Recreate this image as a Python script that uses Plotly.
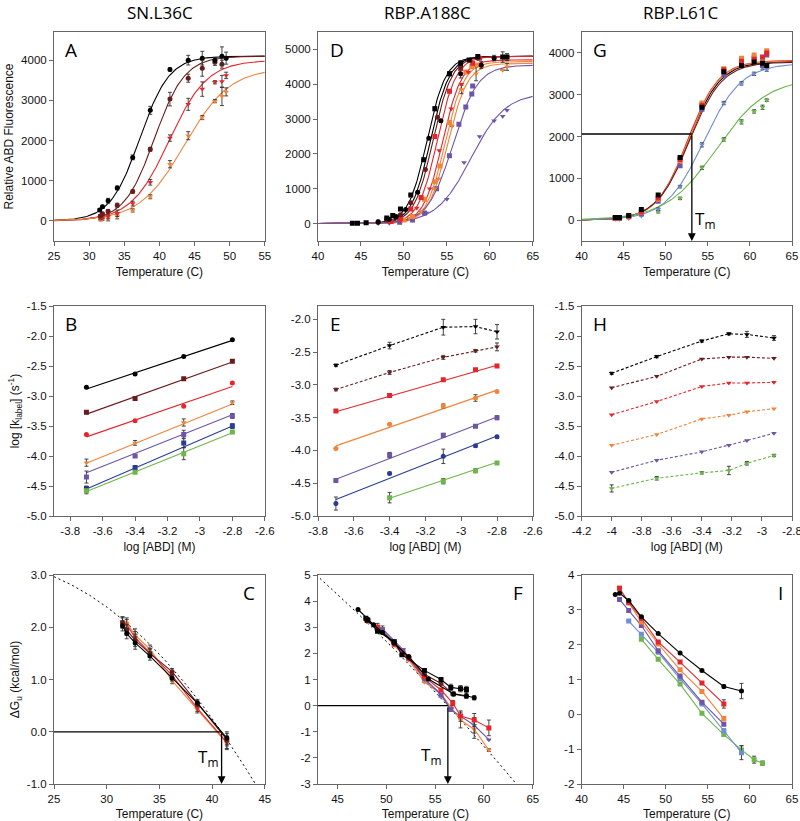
import numpy as np
import plotly.graph_objects as go

# ---------------- colours ----------------
C_BLACK = '#000000'
C_MAROON = '#6a1c1c'
C_RED = '#e4262c'
C_ORANGE = '#f0843a'
C_PURPLE = '#6e55a5'
C_BLUE = '#2b3c94'
C_GREEN = '#6db64a'
C_LBLUE = '#6f8ed4'
ERRC = '#333333'

# ---------------- Panel A (SN.L36C) ----------------
TA_black = [31.5, 31.9, 32.7, 34.0, 36.2, 38.7, 41.5, 44.1, 46.1, 47.9, 48.9, 49.5]
FA_black = [270, 350, 500, 820, 1580, 2750, 3770, 4000, 4050, 4000, 4100, 4050]
EA_black = [40, 40, 60, 50, 60, 100, 40, 120, 170, 70, 230, 150]
TA_maroon = [31.6, 31.9, 32.7, 34.0, 36.2, 38.7, 41.5, 44.1, 46.1, 47.9, 48.9]
FA_maroon = [120, 180, 240, 390, 730, 1780, 3030, 3550, 3800, 3950, 3900]
EA_maroon = [40, 30, 40, 50, 40, 50, 170, 100, 200, 80, 100]
TA_red = [31.6, 31.9, 32.7, 34.0, 36.2, 38.7, 41.5, 44.1, 46.1, 47.9, 48.9, 49.5]
FA_red = [70, 80, 110, 190, 430, 960, 2060, 2900, 3280, 3450, 3470, 3620]
EA_red = [40, 30, 60, 80, 60, 70, 80, 150, 180, 40, 150, 80]
TA_orange = [31.6, 31.9, 32.7, 34.0, 36.2, 38.7, 41.5, 44.1, 46.1, 47.9, 48.9, 49.5]
FA_orange = [30, 40, 60, 110, 260, 600, 1410, 2120, 2570, 2980, 3100, 3210]
EA_orange = [30, 30, 60, 60, 40, 50, 90, 100, 50, 40, 230, 100]
# sigmoid fit parameters (Tm, width, plateau)
FitA_Tm = [37.2, 39.3, 41.4, 43.6]
FitA_w = [2.1, 2.15, 2.7, 3.2]
FitA_top = [4100, 4100, 4000, 3800]

# ---------------- Panel D (RBP.A188C) ----------------
TD1 = [44.0, 44.6, 45.6, 48.0, 48.7, 49.6, 50.8, 52.3, 53.6, 55.3, 56.6, 57.6, 58.6, 61.5, 62.0]
FD1 = [10, 10, 20, 160, 230, 420, 820, 1830, 3300, 4300, 4600, 4700, 4800, 4780, 4780]
ED1 = [0, 0, 0, 0, 0, 0, 0, 0, 60, 60, 80, 0, 0, 150, 100]
TD2 = [47.0, 48.3, 49.1, 50.2, 51.6, 52.9, 54.3, 56.6, 59.0, 60.5]
FD2 = [40, 120, 200, 400, 900, 2450, 2950, 4300, 4550, 4750]
ED2 = [0, 0, 0, 0, 0, 0, 0, 120, 100, 80]
TD3 = [47.0, 48.0, 49.6, 50.8, 52.5, 53.9, 56.6, 58.6]
FD3 = [60, 100, 250, 600, 1550, 3050, 4500, 4750]
TD4 = [48.5, 49.6, 50.8, 52.0, 53.6, 55.3, 56.6, 58.0, 58.8]
FD4 = [60, 150, 420, 750, 2500, 3800, 4450, 4600, 4750]
TD5 = [49.6, 51.5, 53.0, 54.1, 55.5, 56.7, 57.5, 59.0]
FD5 = [80, 450, 1000, 2100, 3300, 4000, 4350, 4500]
TD6 = [50.0, 51.0, 52.4, 53.6, 54.2, 55.3, 57.2, 57.9, 58.6]
FD6 = [100, 200, 700, 1200, 1650, 2900, 4350, 4500, 4550]
TD7 = [50.6, 52.0, 53.6, 54.0, 55.6, 56.7, 58.4, 61.5, 62.0]
FD7 = [150, 350, 1000, 1290, 2800, 3850, 4300, 4400, 4500]
ED7 = [0, 0, 0, 0, 0, 120, 200, 0, 100]
TD8 = [49.5, 51.0, 52.4, 53.8, 55.3, 56.4, 57.2, 57.9, 58.0]
FD8 = [40, 100, 300, 1000, 1950, 2850, 3350, 3720, 3950]
TD9 = [47.0, 48.3, 49.6, 51.0, 52.6, 55.0, 57.0, 58.8, 60.5, 61.5, 62.0]
FD9 = [0, 10, 40, 100, 300, 700, 1750, 2500, 2950, 3080, 3250]
FitD_Tm = [52.7, 53.1, 53.4, 53.9, 54.5, 54.8, 55.1, 55.7, 57.8]
FitD_w = [1.1, 1.1, 1.1, 1.1, 1.1, 1.1, 1.15, 1.45, 2.0]
FitD_top = [4800, 4800, 4800, 4800, 4700, 4650, 4600, 4550, 3750]

# ---------------- Panel G (RBP.L61C) ----------------
TG = [44.0, 44.5, 45.6, 47.1, 49.1, 51.7, 54.3, 56.9, 59.0, 60.5, 61.5, 62.0]
FG_black = [60, 60, 110, 250, 600, 1500, 2700, 3550, 3700, 3780, 3750, 3700]
FG_red = [50, 50, 90, 200, 530, 1450, 2750, 3600, 3800, 3850, 3900, 4000]
FG_orange = [50, 50, 90, 190, 500, 1420, 2800, 3620, 3870, 3950, 3850, 4050]
FG_purple = [40, 40, 80, 150, 450, 1300, 2650, 3480, 3800, 3880, 3700, 3950]
FG_lblue = [30, 30, 60, 100, 260, 800, 1800, 2800, 3270, 3500, 3650, 3600]
FG_green = [20, 20, 40, 120, 200, 520, 1250, 1930, 2350, 2600, 2700, 2870]
FitG_Tm = [52.7, 52.6, 52.65, 52.8, 54.5, 56.0]
FitG_w = [1.9, 1.85, 1.85, 1.95, 2.24, 3.0]
FitG_top = [3800, 3820, 3810, 3780, 3750, 3400]
TmG = 53.1
TmG_level = 2060

# ---------------- Panel B ----------------
XB = [-3.7, -3.4, -3.1, -2.8]
YB_black = [-2.85, -2.63, -2.34, -2.06]
YB_maroon = [-3.27, -3.04, -2.71, -2.42]
YB_red = [-3.64, -3.41, -3.17, -2.78]
YB_orange = [-4.11, -3.78, -3.44, -3.11]
YB_purple = [-4.35, -4.00, -3.64, -3.33]
YB_blue = [-4.54, -4.19, -3.78, -3.50]
YB_green = [-4.58, -4.27, -3.96, -3.60]
EB_orange = [0.06, 0.04, 0.06, 0.03]
EB_purple = [0.10, 0.02, 0.07, 0.04]
EB_blue = [0.04, 0.03, 0.08, 0.04]
EB_green = [0.05, 0.02, 0.10, 0.02]
FitB_start = [-2.88, -3.30, -3.68, -4.12, -4.28, -4.55, -4.59]
FitB_end = [-2.07, -2.43, -2.84, -3.13, -3.31, -3.50, -3.61]

# ---------------- Panel E ----------------
XE = [-3.7, -3.4, -3.1, -2.92, -2.8]
YE_black = [-2.70, -2.40, -2.12, -2.11, -2.19]
YE_maroon = [-3.07, -2.81, -2.58, -2.48, -2.42]
YE_red = [-3.40, -3.16, -2.92, -2.77, -2.71]
YE_orange = [-3.97, -3.60, -3.32, -3.20, -3.10]
YE_purple = [-4.46, -4.07, -3.77, -3.63, -3.50]
YE_blue = [-4.81, -4.35, -4.09, -3.93, -3.79]
XE_green = [-3.4, -3.1, -2.92, -2.8]
YE_green = [-4.72, -4.47, -4.31, -4.19]
EE_black = [0.02, 0.05, 0.12, 0.11, 0.11]
EE_maroon = [0.02, 0.03, 0.03, 0.02, 0.06]
EE_blue = [0.10, 0.02, 0.11, 0.02, 0.02]
EE_green = [0.08, 0.04, 0.03, 0.02]
FitE_x0 = [-3.7, -3.7, -3.7, -3.7, -3.4]
FitE_start = [-3.41, -3.93, -4.44, -4.75, -4.73]
FitE_end = [-2.70, -3.08, -3.49, -3.78, -4.18]

# ---------------- Panel H ----------------
XH = [-4.0, -3.7, -3.4, -3.22, -3.1, -2.92]
YH_black = [-2.62, -2.34, -2.08, -1.96, -1.97, -2.03]
YH_maroon = [-2.86, -2.67, -2.38, -2.35, -2.35, -2.37]
YH_red = [-3.31, -3.09, -2.84, -2.78, -2.78, -2.77]
YH_orange = [-3.82, -3.64, -3.38, -3.32, -3.26, -3.21]
YH_purple = [-4.27, -4.07, -3.93, -3.82, -3.74, -3.62]
YH_green = [-4.54, -4.37, -4.28, -4.24, -4.12, -3.99]
EH_black = [0.02, 0.02, 0.02, 0.02, 0.05, 0.04]
EH_green = [0.06, 0.03, 0.02, 0.07, 0.03, 0.02]

# ---------------- Panel C ----------------
TC = [31.5, 31.9, 32.7, 34.1, 36.2, 38.6, 41.4]
GC_black = [2.03, 1.88, 1.70, 1.45, 1.03, 0.55, -0.12]
GC_maroon = [2.08, 1.95, 1.75, 1.50, 1.15, 0.55, -0.15]
GC_red = [2.10, 2.05, 1.80, 1.52, 1.08, 0.45, -0.20]
GC_orange = [2.10, 2.08, 1.85, 1.58, 0.98, 0.42, -0.22]
EC = [0.10, 0.10, 0.12, 0.08, 0.06, 0.06, 0.12]
TmC = 40.9
DashC = [0.0, -0.29, -0.0065]   # quadratic stability curve about Tm

# ---------------- Panel F ----------------
TF_k1 = [47.1, 48.1, 48.7, 49.6, 50.8, 52.3, 54.3, 56.9, 58.2, 59.0]
GF_k1 = [3.68, 3.30, 3.10, 2.80, 2.40, 1.88, 1.02, 0.45, 0.38, 0.30]
EF_k1 = [0, 0, 0, 0, 0, 0, 0, 0.08, 0.1, 0.08]
TF_k2 = [47.9, 48.1, 49.1, 50.8, 51.6, 53.9, 55.6, 56.6, 57.6, 58.2]
GF_k2 = [3.35, 3.28, 2.85, 2.45, 1.95, 1.35, 1.00, 0.70, 0.65, 0.62]
EF_k2 = [0, 0, 0, 0, 0, 0, 0.05, 0.12, 0.12, 0.12]
TF_m = [48.0, 49.6, 50.8, 52.3, 53.9, 55.6, 56.8, 58.2]
GF_m = [3.25, 2.80, 2.40, 1.85, 1.20, 0.85, 0.45, 0.35]
TF_r = [49.1, 50.8, 52.3, 53.9, 55.6, 56.8, 57.6, 59.0, 60.5]
GF_r = [3.00, 2.35, 1.80, 1.10, 0.60, 0.10, -0.40, -0.55, -0.85]
EF_r = [0, 0, 0, 0, 0, 0.1, 0.2, 0.25, 0.3]
TF_p = [49.6, 51.7, 53.9, 55.6, 56.6, 57.6, 59.0, 60.5]
GF_p = [2.95, 2.15, 1.00, 0.45, -0.15, -0.40, -0.75, -1.30]
EF_p = [0.1, 0, 0, 0, 0, 0, 0.3, 0]
TF_o = [48.0, 49.1, 50.8, 52.3, 53.9, 55.6, 56.7, 57.6, 59.0, 60.5]
GF_o = [3.20, 3.05, 2.30, 1.75, 0.90, 0.45, -0.10, -0.55, -0.90, -1.70]
EF_o = [0, 0.1, 0, 0, 0, 0, 0.1, 0.3, 0.35, 0.05]
TF_b = [49.6, 50.8, 51.7, 53.9, 55.6, 56.6]
GF_b = [2.90, 2.45, 2.10, 1.05, 0.40, -0.15]
TmF = 56.3
DashF = [0.0, -0.408, -0.00275]

# ---------------- Panel I ----------------
TI_black = [44.0, 44.5, 45.6, 47.1, 49.1, 51.7, 54.3, 56.9, 59.0]
GI_black = [3.44, 3.48, 3.27, 2.80, 2.32, 1.76, 1.26, 0.80, 0.67]
EI_black = [0, 0, 0, 0.03, 0, 0, 0, 0.05, 0.22]
TI7 = [44.5, 45.6, 47.1, 49.1, 51.7, 54.3, 56.9]
GI_red = [3.62, 3.21, 2.76, 2.08, 1.50, 0.90, 0.30]
GI_orange = [3.62, 3.20, 2.65, 2.02, 1.28, 0.66, -0.12]
GI_purple = [3.30, 2.98, 2.55, 1.83, 1.10, 0.35, -0.28]
EI_red = [0, 0, 0, 0, 0, 0, 0.12]
TI_lblue = [45.6, 47.1, 49.1, 51.7, 54.3, 56.9, 59.0]
GI_lblue = [2.68, 2.30, 1.78, 1.02, 0.30, -0.47, -1.10]
EI_lblue = [0, 0, 0, 0, 0, 0.05, 0.2]
TI_green = [47.1, 49.1, 51.7, 54.3, 56.9, 59.0, 60.5, 61.5]
GI_green = [2.16, 1.58, 0.87, 0.03, -0.58, -1.02, -1.30, -1.40]
EI_green = [0, 0, 0, 0, 0.04, 0.12, 0.1, 0.06]

# ---------------- helpers ----------------
fig = go.Figure()
FONT = 'Liberation Sans, Arial, sans-serif'
LFONT = 'Open Sans, Noto Sans, sans-serif'


def xn(ax):
    return 'x' if ax == '1' else 'x' + ax


def yn(ax):
    return 'y' if ax == '1' else 'y' + ax


def sig(T, tm, w, top):
    T = np.asarray(T, dtype=float)
    return top / (1.0 + np.exp((tm - T) / w))


def pts(ax, x, y, color, symbol, err=None, mode='markers', dash=None, size=5, lw=1.1):
    fig.add_trace(go.Scatter(
        x=x, y=y, xaxis=xn(ax), yaxis=yn(ax), mode=mode,
        marker=dict(color=color, symbol=symbol, size=size, line=dict(width=0)),
        line=dict(color=color, width=lw, dash=dash),
        error_y=dict(type='data', array=err if err is not None else [],
                     visible=err is not None, color=ERRC, thickness=0.9, width=2),
        showlegend=False, hoverinfo='skip'))


def curve(ax, x, y, color, dash=None, lw=1.1):
    fig.add_trace(go.Scatter(x=x, y=y, xaxis=xn(ax), yaxis=yn(ax), mode='lines',
                             line=dict(color=color, width=lw, dash=dash),
                             showlegend=False, hoverinfo='skip'))


# ---------------- Panel A ----------------
TgridA = np.linspace(25, 55, 200)
colsA = [C_BLACK, C_MAROON, C_RED, C_ORANGE]
for i, c in enumerate(colsA):
    curve('1', TgridA, sig(TgridA, FitA_Tm[i], FitA_w[i], FitA_top[i]), c)
pts('1', TA_orange, FA_orange, C_ORANGE, 'triangle-down', EA_orange)
pts('1', TA_red, FA_red, C_RED, 'triangle-down', EA_red)
pts('1', TA_maroon, FA_maroon, C_MAROON, 'circle', EA_maroon)
pts('1', TA_black, FA_black, C_BLACK, 'circle', EA_black)

# ---------------- Panel D ----------------
TgridD = np.linspace(40, 65, 250)
colsD = [C_BLACK, C_BLACK, C_MAROON, C_RED, C_RED, C_ORANGE, C_ORANGE, C_PURPLE, C_PURPLE]
for i, c in enumerate(colsD):
    curve('2', TgridD, sig(TgridD, FitD_Tm[i], FitD_w[i], FitD_top[i]), c)
pts('2', TD9, FD9, C_PURPLE, 'triangle-down')
pts('2', TD8, FD8, C_PURPLE, 'square')
pts('2', TD7, FD7, C_ORANGE, 'triangle-down', ED7)
pts('2', TD6, FD6, C_ORANGE, 'square')
pts('2', TD5, FD5, C_RED, 'triangle-down')
pts('2', TD4, FD4, C_RED, 'square')
pts('2', TD3, FD3, C_MAROON, 'circle')
pts('2', TD2, FD2, C_BLACK, 'circle', ED2)
pts('2', TD1, FD1, C_BLACK, 'square', ED1)

# ---------------- Panel G ----------------
TgridG = np.linspace(40, 65, 250)
colsG = [C_BLACK, C_RED, C_ORANGE, C_MAROON, C_LBLUE, C_GREEN]
for i, c in enumerate(colsG):
    curve('3', TgridG, sig(TgridG, FitG_Tm[i], FitG_w[i], FitG_top[i]), c)
pts('3', TG, FG_green, C_GREEN, 'triangle-down', [0] * 4 + [30, 30, 40, 40, 50, 40, 50, 30])
pts('3', TG, FG_lblue, C_LBLUE, 'triangle-down', [0] * 4 + [30, 30, 50, 40, 40, 40, 40, 40])
pts('3', TG, FG_purple, C_PURPLE, 'square')
pts('3', TG, FG_orange, C_ORANGE, 'square')
pts('3', TG, FG_red, C_RED, 'square')
pts('3', TG, FG_black, C_BLACK, 'square')

# ---------------- Panel B ----------------
colsB = [C_BLACK, C_MAROON, C_RED, C_ORANGE, C_PURPLE, C_BLUE, C_GREEN]
for i, c in enumerate(colsB):
    curve('4', [XB[0], XB[-1]], [FitB_start[i], FitB_end[i]], c)
pts('4', XB, YB_black, C_BLACK, 'circle')
pts('4', XB, YB_maroon, C_MAROON, 'square')
pts('4', XB, YB_red, C_RED, 'circle')
pts('4', XB, YB_orange, C_ORANGE, 'triangle-down', EB_orange)
pts('4', XB, YB_purple, C_PURPLE, 'square', EB_purple)
pts('4', XB, YB_blue, C_BLUE, 'square', EB_blue)
pts('4', XB, YB_green, C_GREEN, 'square', EB_green)

# ---------------- Panel E ----------------
colsE = [C_RED, C_ORANGE, C_PURPLE, C_BLUE, C_GREEN]
for i, c in enumerate(colsE):
    curve('5', [FitE_x0[i], XE[-1]], [FitE_start[i], FitE_end[i]], c)
pts('5', XE, YE_black, C_BLACK, 'triangle-down', EE_black, mode='lines+markers', dash='3px,2px')
pts('5', XE, YE_maroon, C_MAROON, 'triangle-down', EE_maroon, mode='lines+markers', dash='3px,2px')
pts('5', XE, YE_red, C_RED, 'square')
pts('5', XE, YE_orange, C_ORANGE, 'circle', [0, 0, 0.03, 0.05, 0])
pts('5', XE, YE_purple, C_PURPLE, 'square', [0, 0.04, 0.03, 0, 0.03])
pts('5', XE, YE_blue, C_BLUE, 'circle', EE_blue)
pts('5', XE_green, YE_green, C_GREEN, 'square', EE_green)

# ---------------- Panel H ----------------
for y, c in [(YH_black, C_BLACK), (YH_maroon, C_MAROON), (YH_red, C_RED),
             (YH_orange, C_ORANGE), (YH_purple, C_PURPLE), (YH_green, C_GREEN)]:
    e = EH_black if c == C_BLACK else (EH_green if c == C_GREEN else None)
    pts('6', XH, y, c, 'triangle-down', e, mode='lines+markers', dash='3px,2px')

# ---------------- Panel C ----------------
TgridC = np.linspace(25, 44.3, 150)
curve('7', TgridC, DashC[0] + DashC[1] * (TgridC - TmC) + DashC[2] * (TgridC - TmC) ** 2,
      C_BLACK, dash='2px,3px', lw=1)
pts('7', TC, GC_orange, C_ORANGE, 'triangle-down', EC, mode='lines+markers')
pts('7', TC, GC_red, C_RED, 'triangle-down', EC, mode='lines+markers')
pts('7', TC, GC_maroon, C_MAROON, 'circle', EC, mode='lines+markers')
pts('7', TC, GC_black, C_BLACK, 'circle', EC, mode='lines+markers')

# ---------------- Panel F ----------------
TgridF = np.linspace(43.2, 63.2, 150)
curve('8', TgridF, DashF[0] + DashF[1] * (TgridF - TmF) + DashF[2] * (TgridF - TmF) ** 2,
      C_BLACK, dash='2px,3px', lw=1)
pts('8', TF_o, GF_o, C_ORANGE, 'triangle-down', EF_o, mode='lines+markers')
pts('8', TF_p, GF_p, C_PURPLE, 'triangle-down', EF_p, mode='lines+markers')
pts('8', TF_b, GF_b, C_PURPLE, 'square', mode='lines+markers')
pts('8', TF_r, GF_r, C_RED, 'square', EF_r, mode='lines+markers')
pts('8', TF_m, GF_m, C_MAROON, 'circle', mode='lines+markers')
pts('8', TF_k2, GF_k2, C_BLACK, 'square', EF_k2, mode='lines+markers')
pts('8', TF_k1, GF_k1, C_BLACK, 'circle', EF_k1, mode='lines+markers')

# ---------------- Panel I ----------------
pts('9', TI_green, GI_green, C_GREEN, 'square', EI_green, mode='lines+markers')
pts('9', TI_lblue, GI_lblue, C_LBLUE, 'square', EI_lblue, mode='lines+markers')
pts('9', TI7, GI_purple, C_PURPLE, 'square', mode='lines+markers')
pts('9', TI7, GI_orange, C_ORANGE, 'square', [0, 0, 0, 0, 0, 0, 0.06], mode='lines+markers')
pts('9', TI7, GI_red, C_RED, 'square', EI_red, mode='lines+markers')
pts('9', TI_black, GI_black, C_BLACK, 'circle', EI_black, mode='lines+markers')

# ---------------- Tm guide lines ----------------
shapes = [
    dict(type='line', xref='x7', yref='y7', x0=25, x1=TmC, y0=0, y1=0,
         line=dict(color='black', width=1.3)),
    dict(type='line', xref='x8', yref='y8', x0=43, x1=TmF, y0=0, y1=0,
         line=dict(color='black', width=1.3)),
    dict(type='line', xref='x3', yref='y3', x0=40, x1=TmG, y0=TmG_level, y1=TmG_level,
         line=dict(color='black', width=1.3)),
]

annotations = []
for ax, tm, ytop, ybot in [('7', TmC, 0, -1.0), ('8', TmF, 0, -3.0), ('3', TmG, TmG_level, -500)]:
    annotations.append(dict(x=tm, y=ybot, ax=tm, ay=ytop, xref=xn(ax), yref=yn(ax),
                            axref=xn(ax), ayref=yn(ax), showarrow=True, arrowhead=2,
                            arrowsize=1.2, arrowwidth=1.3, arrowcolor='black', text=''))
for ax, x, y in [('7', 39.6, -0.5), ('8', 54.6, -1.9), ('3', 54.7, 20)]:
    annotations.append(dict(x=x, y=y, xref=xn(ax), yref=yn(ax), showarrow=False,
                            text='T<sub>m</sub>', font=dict(family=LFONT, size=17, color='black')))

# column headings
for x, t in [(0.2, 'SN.L36C'), (0.534, 'RBP.A188C'), (0.85, 'RBP.L61C')]:
    annotations.append(dict(x=x, y=1 - 13 / 821, xref='paper', yref='paper', showarrow=False,
                            xanchor='center', yanchor='middle',
                            text=t, font=dict(family=LFONT, size=17, color='black')))

# panel letters
for ax, letter, xd, xa in [('1', 'A', 0.045, 'left'), ('2', 'D', 0.045, 'left'), ('3', 'G', 0.045, 'left'),
                           ('4', 'B', 0.045, 'left'), ('5', 'E', 0.045, 'left'), ('6', 'H', 0.045, 'left'),
                           ('7', 'C', 0.965, 'right'), ('8', 'F', 0.965, 'right'), ('9', 'I', 0.965, 'right')]:
    annotations.append(dict(x=xd, y=0.985, xref=xn(ax) + ' domain', yref=yn(ax) + ' domain',
                            xanchor=xa, yanchor='top', showarrow=False, text=letter,
                            font=dict(family=LFONT, size=19, color='black')))

# ---------------- axes ----------------
COLX = [[0.0675, 0.331], [0.3975, 0.666], [0.727, 0.99]]
ROWY = [[0.7065, 0.961], [0.3715, 0.627], [0.045, 0.2996]]


def fmt(v, nd=None):
    if nd is None:
        return f'{v:g}'
    return f'{v:.{nd}f}'


def axdef(domain, rng, vals, nd=None, title=None, anchor=None, standoff=6):
    d = dict(domain=domain, range=rng, tickmode='array', tickvals=vals,
             ticktext=[fmt(v, nd) for v in vals], showline=True, linecolor='#666',
             linewidth=1, mirror=True, ticks='outside', ticklen=4, tickcolor='#666',
             showgrid=False, zeroline=False, anchor=anchor, automargin=False,
             ticklabeloverflow='allow',
             tickfont=dict(family=FONT, size=11.5, color='#111'))
    if title:
        d['title'] = dict(text=title, standoff=standoff, font=dict(family=FONT, size=12, color='#111'))
    return d


XT_temp = 'Temperature (C)'
XT_log = 'log [ABD] (M)'
layout_axes = {}
# row 1
layout_axes['xaxis'] = axdef(COLX[0], [25, 55], [25, 30, 35, 40, 45, 50, 55], title=XT_temp, anchor='y')
layout_axes['yaxis'] = axdef(ROWY[0], [-500, 4700], [0, 1000, 2000, 3000, 4000],
                             title='Relative ABD Fluorescence', anchor='x', standoff=4)
layout_axes['xaxis2'] = axdef(COLX[1], [40, 65], [40, 45, 50, 55, 60, 65], title=XT_temp, anchor='y2')
layout_axes['yaxis2'] = axdef(ROWY[0], [-500, 5500], [0, 1000, 2000, 3000, 4000, 5000], anchor='x2')
layout_axes['xaxis3'] = axdef(COLX[2], [40, 65], [40, 45, 50, 55, 60, 65], title=XT_temp, anchor='y3')
layout_axes['yaxis3'] = axdef(ROWY[0], [-500, 4500], [0, 1000, 2000, 3000, 4000], anchor='x3')
# row 2
layout_axes['xaxis4'] = axdef(COLX[0], [-3.9, -2.6], [-3.8, -3.6, -3.4, -3.2, -3.0, -2.8, -2.6], title=XT_log, anchor='y4')
layout_axes['yaxis4'] = axdef(ROWY[1], [-5.0, -1.5], [-5.0, -4.5, -4.0, -3.5, -3.0, -2.5, -2.0, -1.5], nd=1,
                              title='log [k<sub>label</sub>] (s<sup>-1</sup>)', anchor='x4', standoff=4)
layout_axes['xaxis5'] = axdef(COLX[1], [-3.8, -2.6], [-3.8, -3.6, -3.4, -3.2, -3.0, -2.8, -2.6], title=XT_log, anchor='y5')
layout_axes['yaxis5'] = axdef(ROWY[1], [-5.0, -1.8], [-5.0, -4.5, -4.0, -3.5, -3.0, -2.5, -2.0], nd=1, anchor='x5')
layout_axes['xaxis6'] = axdef(COLX[2], [-4.2, -2.8], [-4.2, -4.0, -3.8, -3.6, -3.4, -3.2, -3.0, -2.8], title=XT_log, anchor='y6')
layout_axes['yaxis6'] = axdef(ROWY[1], [-5.0, -1.5], [-5.0, -4.5, -4.0, -3.5, -3.0, -2.5, -2.0, -1.5], nd=1, anchor='x6')
# row 3
layout_axes['xaxis7'] = axdef(COLX[0], [25, 45], [25, 30, 35, 40, 45], title=XT_temp, anchor='y7')
layout_axes['yaxis7'] = axdef(ROWY[2], [-1.0, 3.0], [-1.0, 0.0, 1.0, 2.0, 3.0], nd=1,
                              title='\u0394G<sub>u</sub> (kcal/mol)', anchor='x7', standoff=4)
layout_axes['xaxis8'] = axdef(COLX[1], [43, 65], [45, 50, 55, 60, 65], title=XT_temp, anchor='y8')
layout_axes['yaxis8'] = axdef(ROWY[2], [-3, 5], [-3, -2, -1, 0, 1, 2, 3, 4, 5], anchor='x8')
layout_axes['xaxis9'] = axdef(COLX[2], [40, 65], [40, 45, 50, 55, 60, 65], title=XT_temp, anchor='y9')
layout_axes['yaxis9'] = axdef(ROWY[2], [-2, 4], [-2, -1, 0, 1, 2, 3, 4], anchor='x9')

# inward-pointing tick marks on the top and right frame edges (overlay axes)
for i in range(1, 10):
    base_x = 'xaxis' if i == 1 else f'xaxis{i}'
    base_y = 'yaxis' if i == 1 else f'yaxis{i}'
    bx, by = layout_axes[base_x], layout_axes[base_y]
    layout_axes[f'xaxis{i + 9}'] = dict(
        overlaying=xn(str(i)), side='top', anchor=yn(str(i)), range=bx['range'],
        tickmode='array', tickvals=bx['tickvals'], ticks='inside', ticklen=4, tickcolor='#666',
        showticklabels=False, showline=False, showgrid=False, zeroline=False, automargin=False)
    layout_axes[f'yaxis{i + 9}'] = dict(
        overlaying=yn(str(i)), side='right', anchor=xn(str(i)), range=by['range'],
        tickmode='array', tickvals=by['tickvals'], ticks='inside', ticklen=4, tickcolor='#666',
        showticklabels=False, showline=False, showgrid=False, zeroline=False, automargin=False)

fig.update_layout(
    width=800, height=821, margin=dict(l=0, r=0, t=0, b=0, autoexpand=False),
    paper_bgcolor='white', plot_bgcolor='white', showlegend=False,
    shapes=shapes, annotations=annotations, **layout_axes)

fig.write_html('out.html', config={'displayModeBar': False},
               post_script="document.body.style.margin='0px';document.body.style.overflow='hidden';")
